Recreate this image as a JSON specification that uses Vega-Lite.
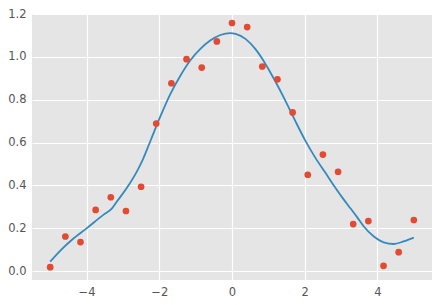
{
  "$schema": "https://vega.github.io/schema/vega-lite/v6.json",
  "width": 400,
  "height": 266,
  "autosize": {"type": "none"},
  "padding": {"left": 32, "top": 14, "right": 9, "bottom": 25},
  "background": "white",
  "config": {
    "view": {"fill": "#E5E5E5", "stroke": null},
    "axis": {
      "domain": false,
      "ticks": false,
      "gridColor": "white",
      "gridWidth": 1.2,
      "labelColor": "#555555",
      "labelFont": "DejaVu Sans",
      "labelFontSize": 11.5,
      "labelPadding": 6,
      "title": null
    }
  },
  "datasets": {
    "pts": [
      {"x": -5.0, "y": 0.019},
      {"x": -4.583, "y": 0.162},
      {"x": -4.167, "y": 0.136},
      {"x": -3.75, "y": 0.286},
      {"x": -3.333, "y": 0.345},
      {"x": -2.917, "y": 0.281},
      {"x": -2.5, "y": 0.394},
      {"x": -2.083, "y": 0.689},
      {"x": -1.667, "y": 0.877},
      {"x": -1.25, "y": 0.989},
      {"x": -0.833, "y": 0.95},
      {"x": -0.417, "y": 1.072},
      {"x": 0.0, "y": 1.158},
      {"x": 0.417, "y": 1.139},
      {"x": 0.833, "y": 0.955},
      {"x": 1.25, "y": 0.895},
      {"x": 1.667, "y": 0.741},
      {"x": 2.083, "y": 0.45},
      {"x": 2.5, "y": 0.544},
      {"x": 2.917, "y": 0.464},
      {"x": 3.333, "y": 0.22},
      {"x": 3.75, "y": 0.234},
      {"x": 4.167, "y": 0.025},
      {"x": 4.583, "y": 0.089},
      {"x": 5.0, "y": 0.239}
    ],
    "fit": [
      {"x": -5.0, "y": 0.045},
      {"x": -4.7, "y": 0.1},
      {"x": -4.4, "y": 0.147},
      {"x": -4.0, "y": 0.2},
      {"x": -3.53, "y": 0.264},
      {"x": -3.3, "y": 0.293},
      {"x": -3.16, "y": 0.326},
      {"x": -2.89, "y": 0.389},
      {"x": -2.61, "y": 0.467},
      {"x": -2.45, "y": 0.522},
      {"x": -2.25, "y": 0.605},
      {"x": -1.97, "y": 0.722},
      {"x": -1.7, "y": 0.825},
      {"x": -1.42, "y": 0.912},
      {"x": -1.15, "y": 0.983},
      {"x": -0.87, "y": 1.037},
      {"x": -0.6, "y": 1.076},
      {"x": -0.32, "y": 1.102},
      {"x": -0.05, "y": 1.111},
      {"x": 0.1, "y": 1.107},
      {"x": 0.37, "y": 1.084},
      {"x": 0.64, "y": 1.037},
      {"x": 0.92, "y": 0.967},
      {"x": 1.19, "y": 0.886},
      {"x": 1.47, "y": 0.795},
      {"x": 1.74, "y": 0.701},
      {"x": 2.02, "y": 0.608},
      {"x": 2.29, "y": 0.53},
      {"x": 2.57, "y": 0.459},
      {"x": 2.8, "y": 0.4},
      {"x": 3.07, "y": 0.335},
      {"x": 3.25, "y": 0.295},
      {"x": 3.45, "y": 0.25},
      {"x": 3.62, "y": 0.21},
      {"x": 3.9, "y": 0.162},
      {"x": 4.17, "y": 0.135},
      {"x": 4.45, "y": 0.127},
      {"x": 4.72, "y": 0.139},
      {"x": 5.0, "y": 0.157}
    ]
  },
  "layer": [
    {
      "data": {"name": "fit"},
      "mark": {"type": "line", "color": "#348ABD", "strokeWidth": 1.8, "interpolate": "monotone"},
      "encoding": {
        "x": {"field": "x", "type": "quantitative", "scale": {"domain": [-5.5, 5.5], "nice": false, "zero": false}, "axis": {"values": [-4, -2, 0, 2, 4], "format": "d"}},
        "y": {"field": "y", "type": "quantitative", "scale": {"domain": [-0.041, 1.2], "nice": false, "zero": false}, "axis": {"values": [0, 0.2, 0.4, 0.6, 0.8, 1.0, 1.2], "format": ".1f"}}
      }
    },
    {
      "data": {"name": "pts"},
      "mark": {"type": "circle", "color": "#E24A33", "opacity": 1, "size": 45},
      "encoding": {
        "x": {"field": "x", "type": "quantitative"},
        "y": {"field": "y", "type": "quantitative"}
      }
    }
  ]
}
